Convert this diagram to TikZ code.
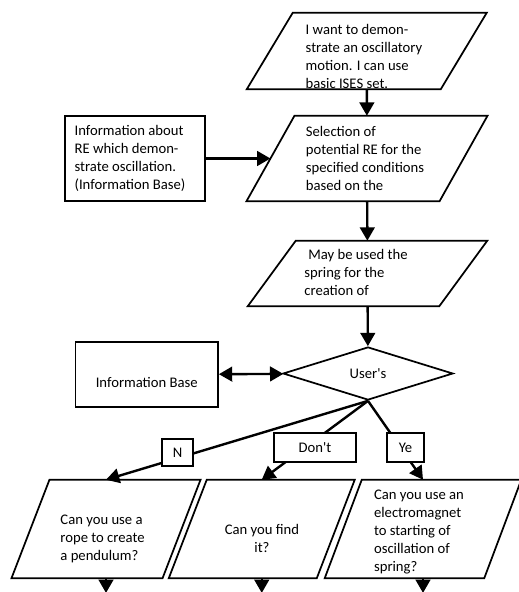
\documentclass[tikz,border=0pt]{standalone}
\usepackage{fontspec}
\setmainfont{Carlito}[Ligatures=TeXOff]
\usetikzlibrary{arrows.meta}
\usetikzlibrary{shapes.geometric}
\tikzset{arr/.style = {-{Triangle[width=11pt,length=10pt]}, line width=1.8pt}}
\tikzset{body/.style = {rectangle, inner sep=0pt}}
\tikzset{infobox/.style = {rectangle, draw, line width=1.3pt, inner sep=0pt}}
\tikzset{tag/.style = {rectangle, draw, fill=white, line width=1.3pt, inner sep=0pt}}
\tikzset{txt/.style = {align=left, inner sep=0pt}}
% parallelogram round a body node: #1 name, #2 half of the slant
\newcommand{\slanted}[2]{%
  \draw[line width=1.3pt] ([xshift=#2]#1.north west) -- ([xshift=#2]#1.north east)
     -- ([xshift=-#2]#1.south east) -- ([xshift=-#2]#1.south west) -- cycle;}

\begin{document}
\begin{tikzpicture}[x=0.75pt, y=-0.75pt, font=\fontsize{11}{13.5}\selectfont]
    \useasboundingbox (0,0) rectangle (518,592);

    % main column
    \node[body, minimum width=145.1pt, minimum height=57pt] (want) at (366.75,51) {};
    \node[body, minimum width=144.4pt, minimum height=63.75pt] (select) at (367,158.5) {};
    \node[body, minimum width=143.25pt, minimum height=48.75pt] (spring) at (367.5,273.5) {};
    \slanted{want}{17.25pt}
    \slanted{select}{18pt}
    \slanted{spring}{18pt}
    \node[diamond, draw, line width=1.3pt, inner sep=0pt,
          minimum width=127.5pt, minimum height=39.75pt] (user) at (368,373.5) {User's};

    \node[txt] (want text) at (364,56) {I want to demon-\\strate an oscillatory\\motion. I can use\\basic ISES set.};
    \node[txt] (select text) at (365,158) {Selection of\\potential RE for the\\specified conditions\\based on the};
    \node[txt] (spring text) at (356,272) {\hspace*{3pt}May be used the\\spring for the\\creation of};

    % information base boxes
    \node[infobox, minimum width=105pt, minimum height=63.75pt] (info) at (135,158.5) {};
    \node[txt] (info text) at (130,158) {Information about\\RE which demon-\\strate oscillation.\\(Information Base)};
    \node[infobox, minimum width=106.9pt, minimum height=48.75pt] (base) at (146.75,374.5) {};
    \node[txt] (base text) at (146.75,382) {Information Base};

    % questions
    \node[body, minimum width=112.9pt, minimum height=73.5pt] (rope) at (106,529) {};
    \node[body, minimum width=110.6pt, minimum height=73.5pt] (find) at (261.75,529) {};
    \node[body, minimum width=119.25pt, minimum height=73.5pt] (magnet) at (423,529) {};
    \slanted{rope}{14.25pt}
    \slanted{find}{14.25pt}
    \slanted{magnet}{13.9pt}

    \node[txt] (rope text) at (102.5,538.6) {Can you use a\\rope to create\\a pendulum?};
    \node[txt, align=center] (find text) at (262,538) {Can you find\\it?};
    \node[txt] (magnet text) at (419,531.6) {Can you use an\\electromagnet\\to starting of\\oscillation of\\spring?};

    % connectors
    \draw[arr] (want) -- (select);
    \draw[arr] (select) -- (spring);
    \draw[arr] (spring) -- (user);
    \draw[arr] (info) -- (select);
    \draw[arr, {Triangle[width=11pt,length=10pt]}-{Triangle[width=11pt,length=10pt]}] (base) -- (user);

    \draw[arr] (user.south) -- (rope.north);
    \draw[arr] (user.south) -- (find.north);
    \draw[arr] (user.south) -- (magnet.north);

    \node[tag, minimum width=23.25pt, minimum height=20.25pt] (no) at (177.5,452.5) {N};
    \node[tag, minimum width=61.5pt, minimum height=21.75pt] (dunno) at (315,447.5) {Don't};
    \node[tag, minimum width=27.75pt, minimum height=21.75pt] (yes) at (405.5,447.5) {Ye};

    \foreach \q in {rope,find,magnet} {
        \coordinate (\q end) at ([yshift=-11pt]\q.south);
        \draw[arr] (\q.south) -- (\q end);
    }
\end{tikzpicture}
\end{document}
